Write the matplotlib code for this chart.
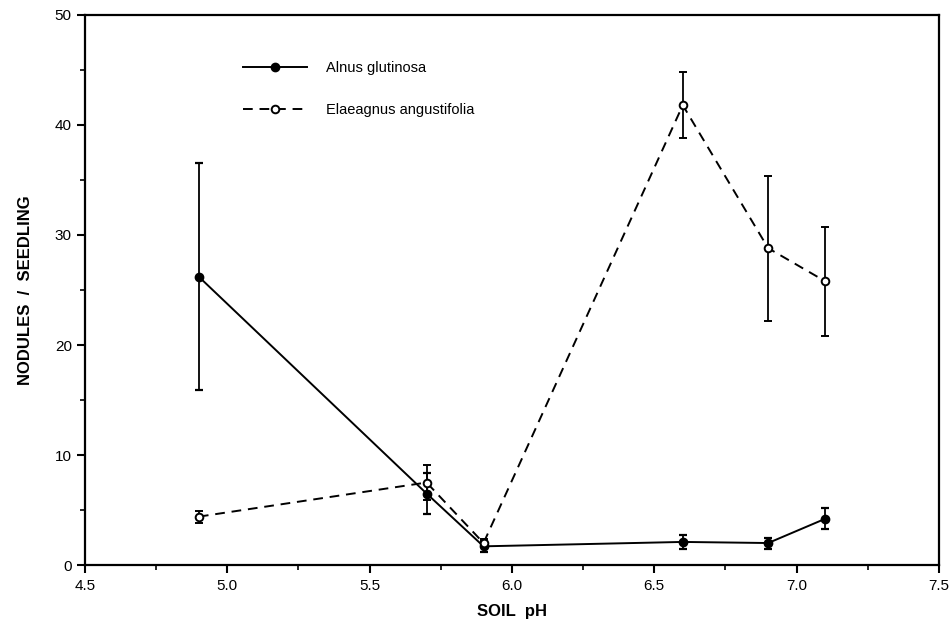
import numpy as np
import matplotlib
matplotlib.use("Agg")
import matplotlib.pyplot as plt
from matplotlib.ticker import MultipleLocator
from matplotlib.lines import Line2D

plt.rcParams["font.family"] = ["Liberation Sans", "DejaVu Sans"]

# data
ph = [4.9, 5.7, 5.9, 6.6, 6.9, 7.1]
alnus = [26.2, 6.5, 1.7, 2.1, 2.0, 4.2]
alnus_err = [10.3, 1.9, 0.5, 0.6, 0.5, 0.95]
elae = [4.4, 7.5, 2.0, 41.8, 28.8, 25.8]
elae_err = [0.55, 1.6, 0.4, 3.0, 6.6, 4.95]
labels = ['Alnus glutinosa', 'Elaeagnus angustifolia']

dash = (0, (5, 3.5))

fig = plt.figure(figsize=(9.52, 6.29), dpi=100)
ax = fig.add_axes([0.0893, 0.1017, 0.8970, 0.8745])

ax.errorbar(ph, alnus, yerr=alnus_err, color='black', linestyle='-', linewidth=1.4,
            marker='o', markersize=6, markerfacecolor='black', capsize=3, elinewidth=1.3,
            capthick=1.6)
ax.errorbar(ph, elae, yerr=elae_err, color='black', linestyle=dash, linewidth=1.4,
            marker='o', markersize=5.5, markerfacecolor='white', markeredgewidth=1.4,
            capsize=3, elinewidth=1.3, capthick=1.6)

ax.set_xlim(4.5, 7.5)
ax.set_ylim(0, 50)
ax.set_xticks(np.arange(4.5, 7.51, 0.5))
ax.set_xticklabels(['4.5', '5.0', '5.5', '6.0', '6.5', '7.0', '7.5'])
ax.xaxis.set_minor_locator(MultipleLocator(0.25))
ax.yaxis.set_major_locator(MultipleLocator(10))
ax.yaxis.set_minor_locator(MultipleLocator(5))
ax.tick_params(axis='both', which='major', direction='out', length=6, width=1.5, labelsize=11)
ax.tick_params(axis='both', which='minor', direction='out', length=3.5, width=1.2)
ax.tick_params(axis='x', pad=4)
for s in ax.spines.values():
    s.set_linewidth(1.6)

ax.set_xlabel('SOIL  pH', fontsize=12, fontweight='bold', labelpad=8)
ax.set_ylabel('NODULES  /  SEEDLING', fontsize=12, fontweight='bold', labelpad=16)

handles = [
    Line2D([], [], color='black', linestyle='-', linewidth=1.4, marker='o', markersize=6,
           markerfacecolor='black'),
    Line2D([], [], color='black', linestyle=dash, linewidth=1.4, marker='o', markersize=5.5,
           markerfacecolor='white', markeredgewidth=1.4),
]
ax.legend(handles, labels, loc='upper left', bbox_to_anchor=(0.17, 0.94), frameon=False,
          fontsize=10.5, handlelength=4.4, labelspacing=1.9, handletextpad=1.3)

fig.savefig('out.png', dpi=100)
